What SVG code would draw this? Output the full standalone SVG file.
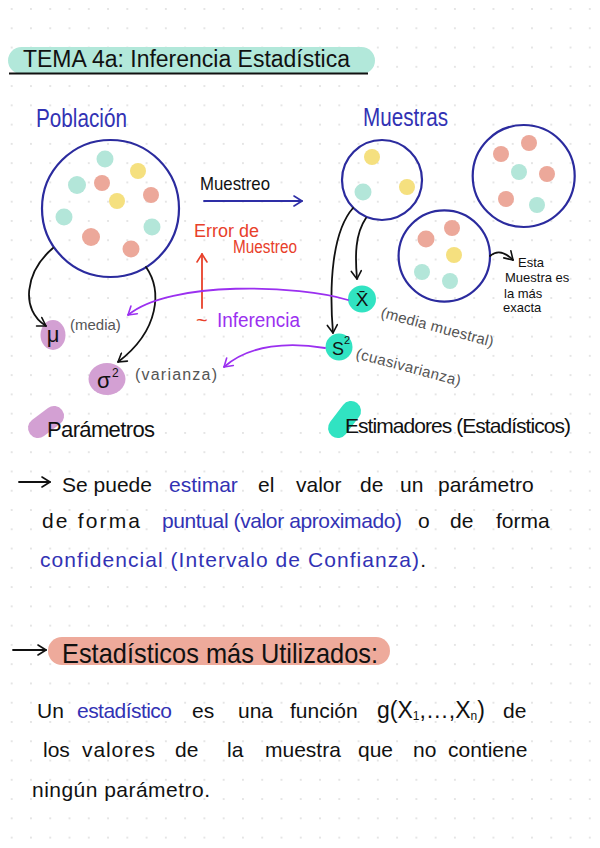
<svg xmlns="http://www.w3.org/2000/svg" width="600" height="848" viewBox="0 0 600 848">
<defs>
<pattern id="grid" patternUnits="userSpaceOnUse" x="2.07" y="-0.64" width="19.27" height="19.27">
<circle cx="9.63" cy="9.63" r="0.8" fill="#c4c4c4"/>
</pattern>
<marker id="mk" viewBox="-10 -6 12 12" refX="0" refY="0" markerWidth="12" markerHeight="12" markerUnits="userSpaceOnUse" orient="auto"><path d="M-8,-5 L0,0 L-8,5" fill="none" stroke="#111" stroke-width="1.6" stroke-linecap="round" stroke-linejoin="round"/></marker>
<marker id="mb" viewBox="-10 -6 12 12" refX="0" refY="0" markerWidth="12" markerHeight="12" markerUnits="userSpaceOnUse" orient="auto"><path d="M-8,-5 L0,0 L-8,5" fill="none" stroke="#2e2ea6" stroke-width="1.6" stroke-linecap="round" stroke-linejoin="round"/></marker>
<marker id="mr" viewBox="-10 -6 12 12" refX="0" refY="0" markerWidth="12" markerHeight="12" markerUnits="userSpaceOnUse" orient="auto"><path d="M-8,-5 L0,0 L-8,5" fill="none" stroke="#e8402a" stroke-width="1.6" stroke-linecap="round" stroke-linejoin="round"/></marker>
<marker id="mp" viewBox="-10 -6 12 12" refX="0" refY="0" markerWidth="12" markerHeight="12" markerUnits="userSpaceOnUse" orient="auto"><path d="M-8,-5 L0,0 L-8,5" fill="none" stroke="#9b30f0" stroke-width="1.6" stroke-linecap="round" stroke-linejoin="round"/></marker>
</defs>
<style>
text{font-family:"Liberation Sans","DejaVu Sans",sans-serif;fill:#111}
.b{font-size:21px}
.blue{fill:#3232b4}
.red{fill:#e8402a}
.pur{fill:#9b30f0}
.gray{fill:#555}
.ring{fill:none;stroke:#2b2b9e;stroke-width:2.2}
.t{fill:#b3e6d9}
.y{fill:#f5e07f}
.s{fill:#eca89a}
.conn{fill:none;stroke-width:1.8;stroke-linecap:round}
.k{stroke:#111}
.cp{stroke:#9b30f0}
</style>
<rect width="600" height="848" fill="#fff"/>
<rect width="600" height="848" fill="url(#grid)"/>

<g id="title">
<rect x="8" y="47" width="367" height="27" rx="13.5" fill="#b2e8da"/>
<line x1="9" y1="73.5" x2="368" y2="73.5" stroke="#111" stroke-width="1.8"/>
<text x="23" y="67" font-size="23" textLength="327" lengthAdjust="spacingAndGlyphs">TEMA 4a: Inferencia Estadística</text>
</g>

<g id="poblacion">
<text class="blue" x="36" y="127" font-size="26" textLength="91" lengthAdjust="spacingAndGlyphs">Población</text>
<circle class="ring" cx="110.5" cy="208.5" r="68.5"/>
<circle class="t" cx="105" cy="159" r="8.5"/>
<circle class="y" cx="138" cy="171" r="8"/>
<circle class="t" cx="77" cy="185" r="9"/>
<circle class="s" cx="102" cy="183" r="8"/>
<circle class="s" cx="151" cy="195" r="8"/>
<circle class="y" cx="117" cy="201" r="8"/>
<circle class="t" cx="64" cy="217" r="8.5"/>
<circle class="t" cx="152" cy="227" r="8.5"/>
<circle class="s" cx="91" cy="237" r="9"/>
<circle class="s" cx="131" cy="249" r="8.5"/>
</g>

<g id="muestras">
<text class="blue" x="363" y="126" font-size="26" textLength="85" lengthAdjust="spacingAndGlyphs">Muestras</text>
</g>
<g id="muestra1">
<circle class="ring" cx="382" cy="180" r="40"/>
<circle class="y" cx="372" cy="157" r="8"/>
<circle class="t" cx="363" cy="192" r="8.5"/>
<circle class="y" cx="407" cy="187" r="8"/>
</g>
<g id="muestra2">
<circle class="ring" cx="523.7" cy="176" r="51"/>
<circle class="s" cx="501" cy="154" r="8"/>
<circle class="s" cx="529" cy="143" r="8"/>
<circle class="t" cx="519" cy="172" r="8"/>
<circle class="s" cx="547" cy="174" r="8"/>
<circle class="s" cx="506" cy="199" r="8"/>
<circle class="t" cx="537" cy="205" r="8"/>
</g>
<g id="muestra3">
<circle class="ring" cx="444.3" cy="256" r="45.7"/>
<circle class="s" cx="426" cy="239" r="8.5"/>
<circle class="s" cx="452" cy="228" r="8"/>
<circle class="y" cx="454" cy="255" r="8"/>
<circle class="t" cx="422" cy="272" r="8"/>
<circle class="t" cx="450" cy="281" r="8"/>
</g>
<g id="nota-exacta">
<text x="518" y="267" font-size="13">Esta</text>
<text x="505" y="282" font-size="13">Muestra es</text>
<text x="504" y="298" font-size="13">la más</text>
<text x="503" y="312" font-size="13">exacta</text>
</g>

<g id="muestreo-label">
<text x="200" y="190" font-size="19" textLength="70" lengthAdjust="spacingAndGlyphs">Muestreo</text>
</g>
<g id="error-muestreo">
<text class="red" x="194" y="237" font-size="18">Error de</text>
<text class="red" x="233" y="253" font-size="18" textLength="64" lengthAdjust="spacingAndGlyphs">Muestreo</text>
</g>
<g id="inferencia">
<text class="red" x="196" y="327" font-size="20">~</text>
<text class="pur" x="217" y="327" font-size="20" textLength="83" lengthAdjust="spacingAndGlyphs">Inferencia</text>
</g>

<g id="mu">
<ellipse cx="53" cy="335" rx="12.5" ry="15" fill="#d3a0d3"/>
<text x="53" y="342" font-size="22" text-anchor="middle">μ</text>
<text class="gray" x="70" y="330" font-size="15">(media)</text>
</g>
<g id="sigma2">
<ellipse cx="107" cy="379" rx="18.5" ry="16" fill="#d3a0d3"/>
<text x="97" y="388" font-size="22">σ</text>
<text x="112" y="377" font-size="12">2</text>
<text class="gray" x="135" y="380" font-size="16" textLength="82" lengthAdjust="spacing">(varianza)</text>
</g>
<g id="xbar">
<ellipse cx="362" cy="299" rx="14" ry="13.5" fill="#31e3c2"/>
<text x="362" y="306" font-size="19" text-anchor="middle" font-family="DejaVu Sans, sans-serif">X&#x0304;</text>
<text class="gray" x="380" y="317" font-size="15" transform="rotate(15 380 317)" textLength="116" lengthAdjust="spacing">(media muestral)</text>
</g>
<g id="s2">
<ellipse cx="339" cy="347" rx="13.5" ry="13.5" fill="#31e3c2"/>
<text x="332" y="355" font-size="18">S</text>
<text x="344" y="344" font-size="11">2</text>
<text class="gray" x="355" y="358" font-size="15" transform="rotate(15 355 358)" textLength="108" lengthAdjust="spacing">(cuasivarianza)</text>
</g>

<g id="parametros">
<path d="M38,428 L54,416" stroke="#d3a0d3" stroke-width="20" stroke-linecap="round"/>
<text x="47" y="437" font-size="22" textLength="108" lengthAdjust="spacing">Parámetros</text>
</g>
<g id="estimadores">
<path d="M338,428 L351,411" stroke="#31e3c2" stroke-width="20" stroke-linecap="round"/>
<text x="345" y="433" font-size="21" textLength="226" lengthAdjust="spacing">Estimadores (Estadísticos)</text>
</g>

<g id="connectors">
<path class="conn" d="M204,201 L302,201" stroke="#2e2ea6" marker-end="url(#mb)"/>
<path class="conn" d="M202,308 L202,254" stroke="#e8402a" marker-end="url(#mr)"/>
<path class="conn k" d="M53,248 C 25,272 20,310 46,326" marker-end="url(#mk)"/>
<path class="conn k" d="M146,267 C 162,290 160,330 118,362" marker-end="url(#mk)"/>
<path class="conn k" d="M353,208 C 332,232 329,285 333,333" marker-end="url(#mk)"/>
<path class="conn k" d="M366,218 C 355,234 355,256 357,279" marker-end="url(#mk)"/>
<path class="conn k" d="M490,256 C 497,250 505,252 513,260" marker-end="url(#mk)"/>
<path class="conn cp" d="M348,300 C 300,285 170,280 128,315" marker-end="url(#mp)"/>
<path class="conn cp" d="M325,348 C 290,342 250,344 224,367" marker-end="url(#mp)"/>
<path class="conn k" d="M19,482 L50,482" marker-end="url(#mk)"/>
<path class="conn k" d="M13,650 L46,650" marker-end="url(#mk)"/>
</g>

<g id="texto-estimacion">
<text class="b" x="62" y="492">Se puede</text>
<text class="b blue" x="169" y="492">estimar</text>
<text class="b" x="258" y="492">el</text>
<text class="b" x="296" y="492">valor</text>
<text class="b" x="360" y="492">de</text>
<text class="b" x="400" y="492">un</text>
<text class="b" x="438" y="492">parámetro</text>
<text class="b" x="42" y="528" textLength="98" lengthAdjust="spacing">de forma</text>
<text class="b blue" x="162" y="528" textLength="240" lengthAdjust="spacing">puntual (valor aproximado)</text>
<text class="b" x="418" y="528">o</text>
<text class="b" x="450" y="528">de</text>
<text class="b" x="496" y="528">forma</text>
<text class="b blue" x="40" y="567" textLength="386" lengthAdjust="spacing">confidencial (Intervalo de Confianza)<tspan fill="#111">.</tspan></text>
</g>

<g id="titulo-estadisticos">
<rect x="48" y="637" width="342" height="28" rx="14" fill="#eeaa9b"/>
<text x="62" y="663" font-size="28" textLength="316" lengthAdjust="spacingAndGlyphs">Estadísticos más Utilizados:</text>
</g>

<g id="texto-estadistico">
<text class="b" x="37" y="718">Un</text>
<text class="b blue" x="77" y="718" textLength="95" lengthAdjust="spacing">estadístico</text>
<text class="b" x="192" y="718">es</text>
<text class="b" x="238" y="718">una</text>
<text class="b" x="290" y="718">función</text>
<text x="377" y="718" font-size="23">g(X<tspan font-size="12" dy="2">1</tspan><tspan dy="-2">,…,X</tspan><tspan font-size="12" dy="2">n</tspan><tspan dy="-2">)</tspan></text>
<text class="b" x="503" y="718">de</text>
<text class="b" x="43" y="757">los</text>
<text class="b" x="82" y="757" textLength="73" lengthAdjust="spacing">valores</text>
<text class="b" x="175" y="757">de</text>
<text class="b" x="227" y="757">la</text>
<text class="b" x="265" y="757">muestra</text>
<text class="b" x="358" y="757">que</text>
<text class="b" x="413" y="757">no</text>
<text class="b" x="448" y="757">contiene</text>
<text class="b" x="32" y="797" textLength="178" lengthAdjust="spacing">ningún parámetro.</text>
</g>
</svg>
